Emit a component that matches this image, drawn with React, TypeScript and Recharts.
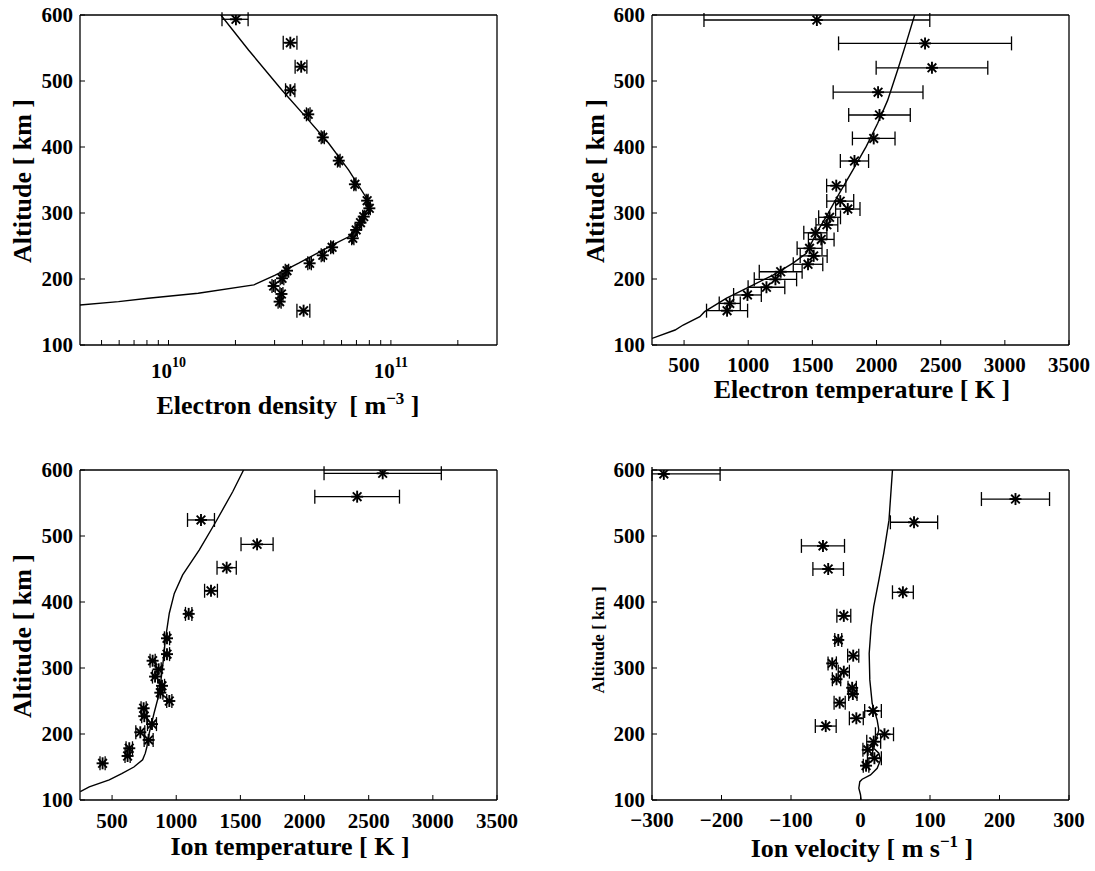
import React from 'react';
import { ScatterChart, Scatter, XAxis, YAxis, ErrorBar } from 'recharts';

const FONT = "'Liberation Serif', 'Times New Roman', Times, serif";

// ---------- ticks ----------
const altTicks = [100, 200, 300, 400, 500, 600];
const neTicks = [5e9, 6e9, 7e9, 8e9, 9e9, 1e10, 2e10, 3e10, 4e10, 5e10, 6e10, 7e10, 8e10, 9e10, 1e11, 2e11];
const neMajorTicks = [1e10, 1e11];
const tempTicks = [500, 1000, 1500, 2000, 2500, 3000, 3500];
const velTicks = [-300, -200, -100, 0, 100, 200, 300];

// ---------- Electron density ----------
const neAlt = [593.5, 558, 521.7, 486, 449.5, 414.6, 379.3, 343.5, 318.7, 307.1, 294.5, 285.4, 274.3, 261.7, 248, 235.9, 223.8, 212.6, 201.1, 189.4, 177.3, 165.7, 152];
const neVal = [2.01e10, 3.53e10, 3.95e10, 3.53e10, 4.25e10, 4.94e10, 5.83e10, 6.89e10, 7.82e10, 8.0e10, 7.55e10, 7.3e10, 6.98e10, 6.74e10, 5.44e10, 4.94e10, 4.31e10, 3.41e10, 3.24e10, 2.97e10, 3.22e10, 3.16e10, 4.05e10];
const neErr = [0.27e10, 0.25e10, 0.24e10, 0.17e10, 0.08e10, 0.08e10, 0.08e10, 0.08e10, 0.08e10, 0.08e10, 0.08e10, 0.08e10, 0.08e10, 0.08e10, 0.08e10, 0.08e10, 0.08e10, 0.06e10, 0.06e10, 0.05e10, 0.05e10, 0.05e10, 0.27e10];
const neModelAlt = [600, 547, 486, 446, 405.6, 365, 324.7, 309.6, 289.4, 264, 254, 224, 206, 191, 178.4, 170.8, 165.7, 160.6];
const neModelVal = [1.72e10, 2.29e10, 3.24e10, 4.13e10, 5.25e10, 6.46e10, 7.7e10, 7.95e10, 7.43e10, 6.46e10, 5.64e10, 3.85e10, 3.02e10, 2.42e10, 1.36e10, 8.1e9, 5.96e9, 4.0e9];

// ---------- Electron temperature ----------
const teAlt = [592.4, 557, 520, 483, 448.5, 413, 378.8, 341.4, 318, 306, 293.5, 282, 270, 260, 246.5, 235, 222.3, 211, 199.5, 187.5, 175.8, 163, 152];
const teVal = [1535, 2378, 2432, 2012, 2023, 1978, 1828, 1686, 1717, 1776, 1634, 1613, 1523, 1569, 1478, 1510, 1466, 1253, 1212, 1142, 994, 856, 835];
const teErr = [880, 674, 435, 350, 240, 166, 110, 75, 105, 95, 85, 85, 90, 100, 97, 105, 115, 167, 165, 143, 108, 82, 160];
const teModelAlt = [600, 557, 517, 471, 436, 400.5, 365, 330, 294.5, 269, 239, 224, 206, 188.4, 171, 150.5, 143, 130.3, 122.7, 110];
const teModelVal = [2297, 2230, 2165, 2087, 2009, 1919, 1815, 1711, 1608, 1530, 1453, 1349, 1193, 1012, 831, 660, 623, 493, 430, 250];

// ---------- Ion temperature ----------
const tiAlt = [595, 559.6, 524.3, 487.4, 452, 417, 382, 345, 321, 311, 298, 287, 273, 262.6, 250, 239, 227, 215, 202.6, 191, 178.4, 166.7, 155.6];
const tiVal = [2609, 2410, 1193, 1630, 1393, 1271, 1097, 928, 928, 816, 863, 835, 889, 876, 946, 746, 751, 811, 720, 785, 634, 621, 426];
const tiErr = [457, 330, 105, 125, 75, 50, 25, 20, 20, 20, 20, 20, 20, 20, 20, 20, 20, 35, 35, 35, 25, 20, 20];
const tiModelAlt = [600, 567, 522, 479, 441, 413, 383, 342.5, 302, 262, 231.4, 191, 181, 171, 161, 150, 140, 130.4, 120, 112.7];
const tiModelVal = [1525, 1440, 1310, 1180, 1050, 985, 946, 915, 894, 868, 827, 777, 772, 759, 738, 670, 575, 478, 322, 252];

// ---------- Ion velocity ----------
const viAlt = [594, 556, 520.8, 485, 450, 414.7, 379, 342.5, 318.7, 307, 294.4, 283, 270, 260.6, 247.5, 235, 223.8, 212, 199.6, 188.4, 176, 163.3, 152];
const viVal = [-283, 223, 77, -54, -46.5, 61, -24, -32, -10.5, -40.7, -24, -34.5, -12, -11, -30, 18, -6, -50, 34.5, 19, 10.5, 20, 8];
const viErrLow = [17, 49, 34, 31, 22, 15, 10, 5, 8, 6, 8, 6, 6, 6, 8, 12, 10, 15, 13, 10, 7, 10, 4];
const viErrHigh = [81, 49, 34, 31, 22, 15, 10, 5, 8, 6, 8, 6, 6, 6, 8, 12, 10, 15, 13, 10, 7, 10, 4];
const viModelAlt = [600, 524, 474, 433, 393, 362.6, 322, 282, 246.5, 221, 206, 188.4, 178.4, 171, 160.7, 148, 138, 131.5, 127.8, 118, 108, 100];
const viModelVal = [46, 41, 33.5, 26.4, 19, 15.3, 12.5, 13.4, 16.8, 24, 26.4, 21.6, 19, 26.4, 28.8, 24, 14.4, 2.4, -1, -2.4, 0, 1];

const zipPoints = (alt: number[], val: number[], err: (number | number[])[]) =>
  alt.map((a, i) => ({ x: val[i], y: a, e: err[i] }));
const zipCurve = (alt: number[], val: number[]) => alt.map((a, i) => ({ x: val[i], y: a }));

const Star = (p: any) => {
  const { cx, cy } = p;
  if (cx == null || cy == null) return <g />;
  const r = 6;
  const d = r * 0.72;
  return (
    <g stroke="#000" strokeWidth={1.9} strokeLinecap="butt">
      <line x1={cx - r} y1={cy} x2={cx + r} y2={cy} />
      <line x1={cx} y1={cy - r} x2={cx} y2={cy + r} />
      <line x1={cx - d} y1={cy - d} x2={cx + d} y2={cy + d} />
      <line x1={cx - d} y1={cy + d} x2={cx + d} y2={cy - d} />
    </g>
  );
};

const NoShape = () => <g />;

const fmt = (v: number) => (v < 0 ? `\u2212${-v}` : `${v}`);

const XTick = (p: any) => {
  const { x, y, payload } = p;
  return (
    <text x={x} y={y + 15} textAnchor="middle" fontFamily={FONT} fontWeight={700} fontSize={21} fill="#000">
      {fmt(payload.value)}
    </text>
  );
};

const YTick = (p: any) => {
  const { x, y, payload } = p;
  return (
    <text x={x} y={y + 7} textAnchor="end" fontFamily={FONT} fontWeight={700} fontSize={21} fill="#000">
      {fmt(payload.value)}
    </text>
  );
};

const LogTick = (p: any) => {
  const { x, y, payload } = p;
  const v = payload.value;
  if (!neMajorTicks.includes(v)) return <g />;
  const e = Math.round(Math.log10(v));
  return (
    <text x={x} y={y + 20} textAnchor="middle" fontFamily={FONT} fontWeight={700} fontSize={21} fill="#000">
      10<tspan dy={-11} fontSize={14}>{e}</tspan>
    </text>
  );
};

type Cfg = {
  x0: number; x1: number; y0: number; y1: number;
  domain: [number, number]; ticks: number[]; log?: boolean;
  points: any[]; curve: any[]; xTickMargin: number;
};

function Panel({ cfg }: { cfg: Cfg }) {
  const padL = 75, padT = 25, padR = 30, padB = 55;
  const YW = 70, XH = 45;
  const left = cfg.x0 - padL;
  const top = cfg.y0 - padT;
  const width = cfg.x1 - cfg.x0 + padL + padR;
  const height = cfg.y1 - cfg.y0 + padT + padB;
  // top axis takes 1px, right axis takes 1px
  const margin = { left: padL - YW, top: padT - 1, right: padR - 1, bottom: padB - XH };
  const axisLine = { stroke: '#000', strokeWidth: 1.3 };
  const tickLine = { stroke: '#000', strokeWidth: 1 };
  const scale = cfg.log ? 'log' : 'linear';
  return (
    <div style={{ position: 'absolute', left, top }}>
      <ScatterChart width={width} height={height} margin={margin}>
        <XAxis
          type="number" dataKey="x" domain={cfg.domain} scale={scale as any} ticks={cfg.ticks}
          interval={0} allowDataOverflow tickSize={-5} tickMargin={cfg.xTickMargin}
          tick={cfg.log ? <LogTick /> : <XTick />}
          axisLine={axisLine} tickLine={tickLine} height={XH}
        />
        <XAxis
          xAxisId="top" orientation="top" type="number" dataKey="x" domain={cfg.domain} scale={scale as any}
          ticks={cfg.ticks} interval={0} allowDataOverflow tickSize={-5} tick={false}
          axisLine={axisLine} tickLine={tickLine} height={1}
        />
        <YAxis
          type="number" dataKey="y" domain={[100, 600]} ticks={altTicks} interval={0}
          allowDataOverflow tickSize={-5} tickMargin={12} tick={<YTick />}
          axisLine={axisLine} tickLine={tickLine} width={YW}
        />
        <YAxis
          yAxisId="right" orientation="right" type="number" dataKey="y" domain={[100, 600]} ticks={altTicks}
          interval={0} allowDataOverflow tickSize={-5} tick={false}
          axisLine={axisLine} tickLine={tickLine} width={1}
        />
        <Scatter
          xAxisId="top" yAxisId="right"
          data={cfg.curve} line={{ stroke: '#000', strokeWidth: 1.4 }} lineType="joint"
          shape={NoShape} isAnimationActive={false} legendType="none"
        />
        <Scatter data={cfg.points} shape={Star} isAnimationActive={false} legendType="none">
          <ErrorBar dataKey="e" direction="x" width={7} stroke="#000" strokeWidth={1.3} isAnimationActive={false} />
        </Scatter>
      </ScatterChart>
    </div>
  );
}

const panels: Cfg[] = [
  { x0: 80, x1: 497, y0: 15, y1: 345, domain: [4e9, 3e11], ticks: neTicks, log: true,
    points: zipPoints(neAlt, neVal, neErr), curve: zipCurve(neModelAlt, neModelVal), xTickMargin: 18 },
  { x0: 652, x1: 1069, y0: 15, y1: 345, domain: [250, 3500], ticks: tempTicks,
    points: zipPoints(teAlt, teVal, teErr), curve: zipCurve(teModelAlt, teModelVal), xTickMargin: 17 },
  { x0: 80, x1: 497, y0: 470, y1: 800, domain: [250, 3500], ticks: tempTicks,
    points: zipPoints(tiAlt, tiVal, tiErr), curve: zipCurve(tiModelAlt, tiModelVal), xTickMargin: 18 },
  { x0: 652, x1: 1069, y0: 470, y1: 800, domain: [-300, 300], ticks: velTicks,
    points: zipPoints(viAlt, viVal, viAlt.map((_, i) => [viErrLow[i], viErrHigh[i]])),
    curve: zipCurve(viModelAlt, viModelVal), xTickMargin: 17 },
];

export default function App() {
  return (
    <div style={{ position: 'absolute', left: 0, top: 0, width: 1095, height: 871, background: '#fff' }}>
      {panels.map((c, i) => <Panel key={i} cfg={c} />)}
      <svg width={1095} height={871} style={{ position: 'absolute', left: 0, top: 0, pointerEvents: 'none' }}>
        <g fontFamily={FONT} fontWeight={700} fill="#000">
          <text x={288} y={414} fontSize={26} textAnchor="middle">
            Electron density<tspan dx={12}>[ m</tspan><tspan dy={-10} fontSize={17}>{'\u22123'}</tspan><tspan dy={10}>{' ]'}</tspan>
          </text>
          <text x={862} y={398} fontSize={26} textAnchor="middle">Electron temperature [ K ]</text>
          <text x={290} y={855} fontSize={26} textAnchor="middle">Ion temperature [ K ]</text>
          <text x={862} y={857} fontSize={26} textAnchor="middle">
            Ion velocity [ m s<tspan dy={-10} fontSize={17}>{'\u22121'}</tspan><tspan dy={10}>{' ]'}</tspan>
          </text>
          <text transform="translate(31,181) rotate(-90)" fontSize={26} textAnchor="middle">Altitude [ km ]</text>
          <text transform="translate(604,181) rotate(-90)" fontSize={26} textAnchor="middle">Altitude [ km ]</text>
          <text transform="translate(31,636) rotate(-90)" fontSize={26} textAnchor="middle">Altitude [ km ]</text>
          <text transform="translate(604,640) rotate(-90)" fontSize={17} textAnchor="middle">Altitude [ km ]</text>
        </g>
      </svg>
    </div>
  );
}
